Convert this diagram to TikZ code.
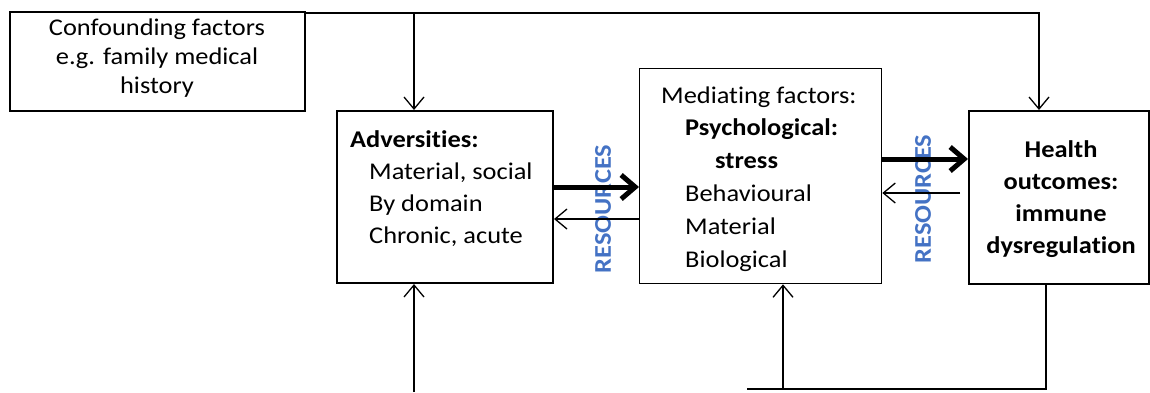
\documentclass[tikz,border=0pt]{standalone}
\usepackage{fontspec}
\setmainfont{Carlito}[FakeStretch=1.1, Ligatures=NoCommon]
\usetikzlibrary{arrows.meta}

\definecolor{resblue}{RGB}{68,114,196}

\tikzset{
  box/.style={draw, anchor=north west, inner sep=0pt},
  thinarrow/.style={-{Straight Barb[length=12pt,width=20pt]}, line width=1.3pt},
  thickarrow/.style={-{Straight Barb[length=14pt,width=24pt]}, line width=5pt},
  lbl/.style={anchor=base west, inner sep=0pt, align=left},
  res/.style={rotate=90, text=resblue, inner sep=0pt,
    font=\bfseries\fontsize{24}{24}\selectfont}
}

\begin{document}
\begin{tikzpicture}[x=1pt, y=-1pt]
\useasboundingbox (0,0) rectangle (1150,392);

% boxes
\node[box, line width=2pt, minimum width=295pt, minimum height=99pt] (conf) at (9,11) {};
\node[box, line width=2pt, minimum width=216pt, minimum height=172pt] (advers) at (336,110) {};
\node[box, line width=1.3pt, minimum width=242pt, minimum height=215pt] (mediat) at (639,68) {};
\node[box, line width=2pt, minimum width=180pt, minimum height=173pt] (health) at (968,110) {};

% texts (base = last line)
\node[anchor=base, inner sep=0pt, align=center, font=\fontsize{24}{29}\selectfont] (conftext) at (157,93)
  {Confounding factors\\e.g. family medical\\history};
\node[lbl, font=\fontsize{24}{32}\selectfont] (adverstext) at (350,243)
  {\textbf{Adversities:}\\\hspace*{19pt}Material, social\\\hspace*{19pt}By domain\\\hspace*{19pt}Chronic, acute};
\node[lbl, font=\fontsize{24}{32.8}\selectfont] (mediattext) at (661,267)
  {Mediating factors:\\\hspace*{24pt}\textbf{Psychological:}\\\hspace*{54pt}\textbf{stress}\\\hspace*{24pt}Behavioural\\\hspace*{24pt}Material\\\hspace*{24pt}Biological};
\node[anchor=base, inner sep=0pt, align=center, font=\bfseries\fontsize{24}{32}\selectfont] (healthtext) at (1061,253)
  {Health\\outcomes:\\immune\\dysregulation};

\node[res] (resleft) at (603,209) {RESOURCES};
\node[res] (resright) at (923,199) {RESOURCES};

% free ends
\coordinate (topfork) at (414,13);
\coordinate (advbottom) at (414,392);
\coordinate (botleft) at (747,389);
\coordinate (medfork) at (783,389);

% connectors
\draw[line width=1.3pt] ([yshift=-2pt]conf.north east) -- (topfork);
\draw[thinarrow] (topfork) -| ([xshift=-20pt]health.north);
\draw[thinarrow] (topfork) -- (topfork |- advers.north);
\draw[thickarrow] (advers.east |- 0,187) -- (mediat.west |- 0,187);
\draw[thinarrow] (mediat.west |- 0,219) -- (advers.east |- 0,219);
\draw[thickarrow] (mediat.east |- 0,159) -- (health.west |- 0,159);
\draw[thinarrow] ([xshift=-8pt]health.west |- 0,193) -- (mediat.east |- 0,193);
\draw[thinarrow] (advbottom) -- (advbottom |- advers.south);
\draw[line width=1.3pt] ([xshift=-13pt]health.south) |- (botleft);
\draw[thinarrow] (medfork) -- (medfork |- mediat.south);
\end{tikzpicture}
\end{document}
